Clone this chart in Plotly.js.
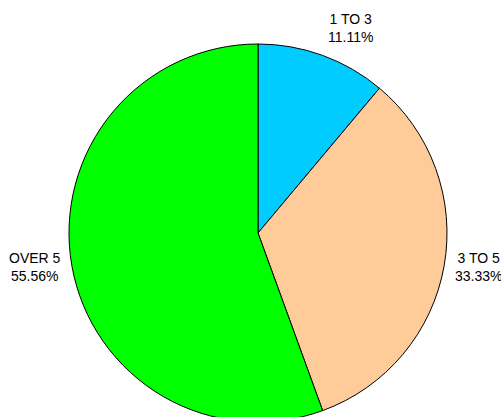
<!DOCTYPE html>
<html>
<head>
<meta charset="utf-8">
<script src="https://cdn.plot.ly/plotly-3.0.1.min.js"></script>
<style>
  html, body { margin: 0; padding: 0; overflow: hidden; background: #fff; }
  #chart { width: 501px; height: 423px; }
</style>
</head>
<body>
<div id="chart"></div>
<script>
const categories = ["1 TO 3", "3 TO 5", "OVER 5"];
const values = [1, 3, 5];
const sliceColors = ["#00CCFF", "#FFCC99", "#00FF00"];

const total = values.reduce((a, b) => a + b, 0);
const annotations = [];
let cum = 0;
values.forEach((v, i) => {
  const mid = (cum + v / 2) / total * 2 * Math.PI;
  cum += v;
  const s = Math.sin(mid), c = Math.cos(mid);
  const pct = (v / total * 100).toFixed(2) + "%";
  annotations.push({
    xref: "paper", yref: "paper",
    x: 0.5 + 0.525 * s,
    y: 0.5 + 0.525 * c,
    xanchor: s > 0.01 ? "left" : (s < -0.01 ? "right" : "center"),
    yanchor: c > 0.5 ? "bottom" : (c < -0.5 ? "top" : "middle"),
    text: categories[i] + "<br>" + pct,
    showarrow: false,
    align: "center",
    font: { family: "Liberation Sans, Arial, sans-serif", size: 14, color: "#000" }
  });
});

const trace = {
  type: "pie",
  labels: categories,
  values: values,
  sort: false,
  direction: "clockwise",
  rotation: 0,
  textinfo: "none",
  hoverinfo: "label+percent",
  marker: { colors: sliceColors, line: { color: "#000", width: 1 } },
  domain: { x: [0, 1], y: [0, 1] }
};

const layout = {
  width: 501,
  height: 423,
  margin: { l: 69, r: 54, t: 44, b: 1 },
  showlegend: false,
  paper_bgcolor: "#fff",
  plot_bgcolor: "#fff",
  annotations: annotations
};

Plotly.newPlot("chart", [trace], layout, { displayModeBar: false, staticPlot: true });
</script>
</body>
</html>
